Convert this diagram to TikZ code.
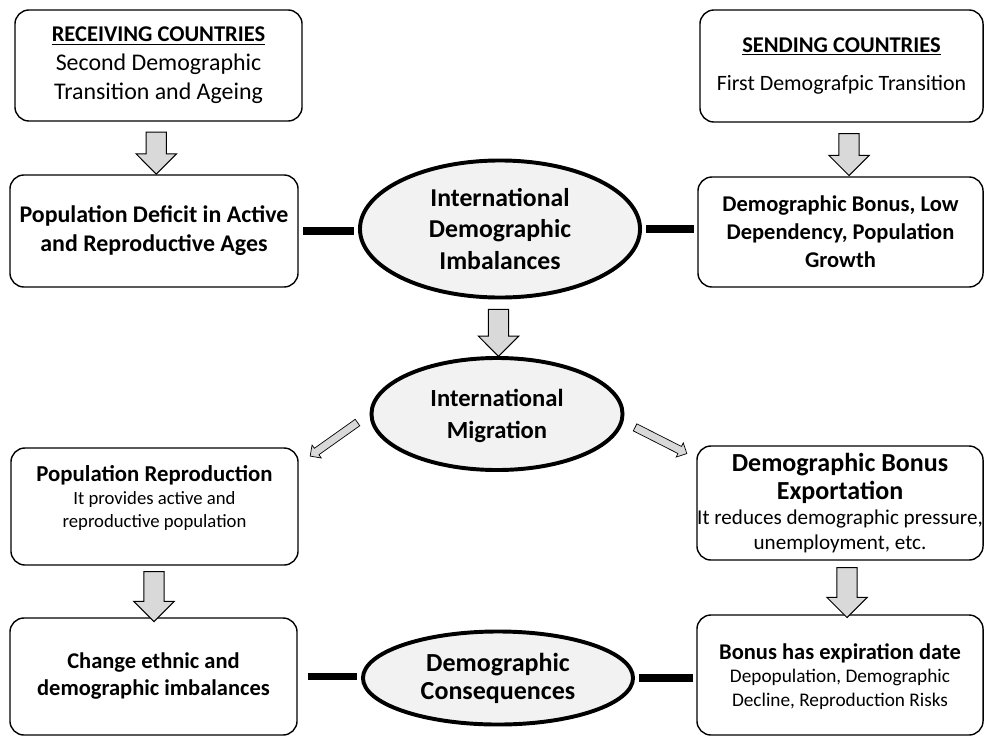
\documentclass[tikz,border=0pt]{standalone}
\usepackage{fontspec}
\setmainfont{Carlito}
\usetikzlibrary{shapes.geometric, shapes.arrows, positioning}

\begin{document}
\begin{tikzpicture}[x=0.025cm, y=-0.025cm,
  box/.style={draw, line width=1pt, rounded corners=10pt, align=center, inner sep=0pt},
  hub/.style={draw, ellipse, line width=2.8pt, fill=gray!10, align=center, inner sep=0pt},
  link/.style={line width=5.5pt, shorten >=2.5pt, shorten <=3pt},
  downarrow/.style={single arrow, draw, line width=0.7pt, fill=gray!30, shape border rotate=270,
    minimum height=1.05cm, inner sep=0.24cm, single arrow head extend=0.25cm},
  slimarrow/.style={single arrow, draw, line width=0.5pt, fill=gray!30, sloped, allow upside down,
    minimum height=1.45cm, inner sep=0.09cm, single arrow head extend=0.1cm}]
\useasboundingbox (0,0) rectangle (985,737);

% Receiving and sending countries
\node[box, minimum width=7.175cm, minimum height=2.775cm, font=\fontsize{17}{20.5}\selectfont] (recv) at (158.5,65.5)
  {{\fontsize{16}{20}\selectfont\bfseries\underline{RECEIVING COUNTRIES}}\\ Second Demographic\\ Transition and Ageing};
\node[box, minimum width=7.075cm, minimum height=2.8cm, font=\fontsize{15.6}{19}\selectfont] (send) at (841.5,66)
  {{\fontsize{16}{20}\selectfont\bfseries\underline{SENDING COUNTRIES}}\\[8pt] First Demografpic Transition};

% Second row
\node[box, minimum width=7.2cm, minimum height=2.8cm, font=\fontsize{17}{20.5}\selectfont\bfseries] (deficit) at (154,231)
  {Population Deficit in Active\\ and Reproductive Ages};
\node[hub, minimum width=7cm, minimum height=3.425cm, font=\fontsize{18.3}{22.5}\selectfont\bfseries] (imb) at (500,229)
  {International\\ Demographic\\ Imbalances};
\node[box, minimum width=7.125cm, minimum height=2.75cm, font=\fontsize{16}{19.8}\selectfont\bfseries] (bonus) at (840.5,232)
  {Demographic Bonus, Low\\ Dependency, Population\\ Growth};

% Migration
\node[hub, minimum width=6.275cm, minimum height=2.8cm, text depth=-4pt, font=\fontsize{17.5}{22.5}\selectfont\bfseries] (mig) at (497,414)
  {International\\ Migration};

% Third row
\node[box, minimum width=7.175cm, minimum height=2.925cm, text depth=14pt, font=\fontsize{13.3}{16.4}\selectfont] (reprod) at (154.5,506.5)
  {{\fontsize{16.2}{19}\selectfont\bfseries Population Reproduction}\\ It provides active and\\ reproductive population};
\node[box, minimum width=7.15cm, minimum height=2.85cm, font=\fontsize{15}{18}\selectfont] (export) at (840,503)
  {{\fontsize{18.5}{22}\selectfont\bfseries Demographic Bonus}\\[2pt] {\fontsize{18.5}{22}\selectfont\bfseries Exportation}\\ It reduces demographic pressure,\\ unemployment, etc.};

% Bottom row
\node[box, minimum width=7.175cm, minimum height=2.925cm, font=\fontsize{16}{19.2}\selectfont\bfseries] (change) at (153.5,676.5)
  {Change ethnic and\\ demographic imbalances};
\node[hub, minimum width=6.75cm, minimum height=2.325cm, font=\fontsize{18.5}{20}\selectfont\bfseries] (cons) at (498,678)
  {Demographic\\ Consequences};
\node[box, minimum width=7.15cm, minimum height=3cm, text depth=-6pt, font=\fontsize{13.7}{16.9}\selectfont] (expiry) at (840,675)
  {{\fontsize{16}{19}\selectfont\bfseries Bonus has expiration date}\\ Depopulation, Demographic\\ Decline, Reproduction Risks};

% Block arrows
\path (recv.south) -- (deficit.north) node[midway, downarrow] {};
\path (send.south) -- (bonus.north) node[midway, downarrow, xshift=0.2cm] {};
\path (imb.south) -- (mig.north) node[midway, downarrow, minimum height=1.175cm] {};
\path (reprod.south) -- (change.north) node[midway, downarrow, minimum height=1.25cm] {};
\path (export.south) -- (expiry.north) node[midway, downarrow, xshift=0.175cm, minimum height=1.25cm] {};

% Slim arrows out of migration
\path (mig.west) -- ([shift={(14,7)}]reprod.north east) node[pos=0.6, slimarrow] {};
\path ([shift={(0,8)}]mig.east) -- ([shift={(-12,7)}]export.north west) node[pos=0.58, slimarrow] {};

% Thick links
\draw[link] (deficit.east) -- (deficit.east -| imb.west);
\draw[link] (imb.east) -- (imb.east -| bonus.west);
\draw[link, shorten <=7pt] (change.east) -- (change.east -| cons.west);
\draw[link] (cons.east) -- (cons.east -| expiry.west);

\end{tikzpicture}
\end{document}
